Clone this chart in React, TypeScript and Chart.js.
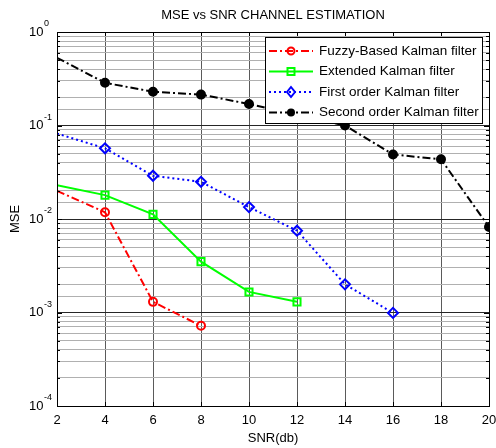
import React, { useEffect, useRef } from 'react';
import { Chart, registerables } from 'chart.js';

Chart.register(...registerables);

// ---------------- data ----------------
const snrDb = [2, 4, 6, 8, 10, 12, 14, 16, 18, 20];
const fuzzyKalman = [0.02, 0.0118, 0.0013, 0.00072];
const extendedKalman = [0.023, 0.018, 0.0112, 0.0035, 0.00166, 0.0013];
const firstOrderKalman = [0.082, 0.057, 0.029, 0.025, 0.0134, 0.0075, 0.002, 0.00099];
const secondOrderKalman = [0.53, 0.286, 0.23, 0.214, 0.17, 0.13, 0.1, 0.049, 0.0435, 0.0082];
const seriesNames = [
  'Fuzzy-Based Kalman filter',
  'Extended Kalman filter',
  'First order Kalman filter',
  'Second order Kalman filter',
];
const xTickLabels = ['2', '4', '6', '8', '10', '12', '14', '16', '18', '20'];
const yDecades = [1, 0.1, 0.01, 0.001, 0.0001];
const yExponents = ['0', '-1', '-2', '-3', '-4'];
const chartTitle = 'MSE vs SNR CHANNEL ESTIMATION';
const xTitle = 'SNR(db)';
const yTitle = 'MSE';

const FONT = "'Liberation Sans', Arial, Helvetica, sans-serif";

const colors = ['#ff0000', '#00ff00', '#0000ff', '#000000'];
const dashes = [[8, 3, 2, 3], [], [2, 3], [8, 3, 2, 3]];
const markers = ['circle', 'rect', 'rectRot', 'dot'];

const toPoints = (vals: number[]) => vals.map((v, i) => ({ x: snrDb[i], y: v }));

function isDecade(v: number) {
  const l = Math.log10(v);
  return Math.abs(l - Math.round(l)) < 1e-9;
}

function drawMarker(ctx: CanvasRenderingContext2D, kind: string, x: number, y: number, color: string) {
  ctx.save();
  ctx.setLineDash([]);
  ctx.lineWidth = 2;
  ctx.strokeStyle = color;
  ctx.fillStyle = color;
  ctx.beginPath();
  if (kind === 'circle') {
    ctx.arc(x, y, 3.5, 0, Math.PI * 2);
    ctx.stroke();
  } else if (kind === 'rect') {
    ctx.rect(x - 3.5, y - 3.5, 7, 7);
    ctx.stroke();
  } else if (kind === 'rectRot') {
    ctx.moveTo(x, y - 5);
    ctx.lineTo(x + 4, y);
    ctx.lineTo(x, y + 5);
    ctx.lineTo(x - 4, y);
    ctx.closePath();
    ctx.stroke();
  } else {
    ctx.arc(x, y, 4, 0, Math.PI * 2);
    ctx.fill();
  }
  ctx.restore();
}

const matlabPlugin = {
  id: 'matlabDecor',
  afterDraw(chart: any) {
    const { ctx, chartArea: a, scales } = chart;
    const xs = scales.x;
    const ys = scales.y;
    ctx.save();
    ctx.setLineDash([]);
    ctx.strokeStyle = '#000';
    ctx.lineWidth = 1;
    // inward tick marks
    ctx.beginPath();
    for (const v of snrDb) {
      const px = Math.round(xs.getPixelForValue(v)) + 0.5;
      ctx.moveTo(px, a.bottom);
      ctx.lineTo(px, a.bottom - 4);
      ctx.moveTo(px, a.top);
      ctx.lineTo(px, a.top + 4);
    }
    for (let e = -4; e < 0; e++) {
      for (let s = 1; s <= 9; s++) {
        const v = s * Math.pow(10, e);
        const py = Math.round(ys.getPixelForValue(v)) + 0.5;
        const len = s === 1 ? 5 : 3;
        ctx.moveTo(a.left, py);
        ctx.lineTo(a.left + len, py);
        ctx.moveTo(a.right, py);
        ctx.lineTo(a.right - len, py);
      }
    }
    ctx.stroke();
    // box
    ctx.strokeRect(Math.round(a.left) + 0.5, Math.round(a.top) + 0.5, Math.round(a.right - a.left), Math.round(a.bottom - a.top));

    // x tick labels
    ctx.fillStyle = '#000';
    ctx.font = `13px ${FONT}`;
    ctx.textAlign = 'center';
    ctx.textBaseline = 'middle';
    snrDb.forEach((v, i) => {
      ctx.fillText(xTickLabels[i], xs.getPixelForValue(v), a.bottom + 14);
    });

    // y tick labels with superscripts
    ctx.textBaseline = 'middle';
    ctx.textAlign = 'left';
    yDecades.forEach((v, i) => {
      const py = ys.getPixelForValue(v);
      ctx.font = `13px ${FONT}`;
      const baseX = 29;
      ctx.fillText('10', baseX, py);
      const w = ctx.measureText('10').width;
      ctx.font = `9px ${FONT}`;
      ctx.fillText(yExponents[i], baseX + w + 0.5, py - 8);
    });

    // legend
    const lx = 265, ly = 37, lw = 217, lh = 86;
    ctx.fillStyle = '#fff';
    ctx.fillRect(lx, ly, lw, lh);
    ctx.strokeStyle = '#000';
    ctx.lineWidth = 1;
    ctx.strokeRect(lx + 0.5, ly + 0.5, lw, lh);
    seriesNames.forEach((name, i) => {
      const y = 51 + i * 20.5;
      ctx.save();
      ctx.strokeStyle = colors[i];
      ctx.lineWidth = 2;
      ctx.setLineDash(dashes[i]);
      ctx.beginPath();
      ctx.moveTo(269, y);
      ctx.lineTo(313, y);
      ctx.stroke();
      ctx.restore();
      drawMarker(ctx, markers[i], 291, y, colors[i]);
      ctx.fillStyle = '#000';
      ctx.font = `13.5px ${FONT}`;
      ctx.textAlign = 'left';
      ctx.textBaseline = 'middle';
      ctx.fillText(name, 319, y);
    });
    ctx.restore();
  },
};

export default function App() {
  const ref = useRef<HTMLCanvasElement | null>(null);

  useEffect(() => {
    document.body.style.margin = '0';
    const canvas = ref.current;
    if (!canvas) return;
    const pointStyleMap: Record<string, string> = { circle: 'circle', rect: 'rect', rectRot: 'rectRot', dot: 'circle' };
    const radii = [4, 5, 5, 4];
    const seriesData = [fuzzyKalman, extendedKalman, firstOrderKalman, secondOrderKalman];
    const datasets = seriesData.map((vals, i) => ({
      label: seriesNames[i],
      data: toPoints(vals),
      borderColor: colors[i],
      borderWidth: 2,
      borderDash: dashes[i],
      pointStyle: pointStyleMap[markers[i]],
      pointRadius: (c: any) => (c.dataIndex === 0 ? 0 : radii[i]),
      pointBorderWidth: 2,
      pointBorderColor: colors[i],
      pointBackgroundColor: markers[i] === 'dot' ? colors[i] : 'rgba(0,0,0,0)',
      fill: false,
      tension: 0,
      clip: 0,
    }));

    const chart = new Chart(canvas, {
      type: 'line',
      data: { datasets },
      plugins: [matlabPlugin],
      options: {
        responsive: false,
        animation: false,
        devicePixelRatio: 1,
        layout: { padding: { left: 0, right: 7, top: 0, bottom: 0 } },
        plugins: {
          legend: { display: false },
          tooltip: { enabled: false },
          title: {
            display: true,
            text: chartTitle,
            color: '#000',
            fullSize: false,
            font: { family: FONT, size: 13, weight: 'normal' },
            padding: { top: 7.2, bottom: 9.2 },
          },
        },
        scales: {
          x: {
            type: 'linear',
            min: 2,
            max: 20,
            afterFit: (s: any) => { s.height = 42; },
            ticks: { stepSize: 2, display: false, autoSkip: false },
            grid: { color: '#5a5a5a', lineWidth: 1, drawTicks: false },
            border: { display: false },
            title: {
              display: true,
              text: xTitle,
              color: '#000',
              font: { family: FONT, size: 13 },
              padding: { top: 0, bottom: 2 },
            },
          },
          y: {
            type: 'logarithmic',
            min: 0.0001,
            max: 1,
            afterFit: (s: any) => { s.width = 57; },
            ticks: { display: false, autoSkip: false },
            grid: {
              drawTicks: false,
              lineWidth: 1,
              color: (c: any) => (c.tick && isDecade(c.tick.value) ? '#262626' : '#b0b0b0'),
            },
            border: { display: false },
            title: {
              display: true,
              text: yTitle,
              color: '#000',
              font: { family: FONT, size: 13 },
              padding: { top: 7.2, bottom: 0 },
            },
          },
        },
      },
    } as any);
    return () => chart.destroy();
  }, []);

  return (
    <div style={{ position: 'fixed', left: 0, top: 0, width: 496, height: 448, background: '#fff' }}>
      <canvas ref={ref} width={496} height={448} style={{ display: 'block' }} />
    </div>
  );
}
